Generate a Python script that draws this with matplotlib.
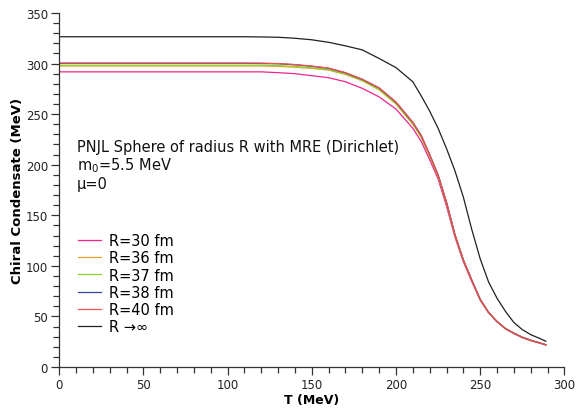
import matplotlib
matplotlib.use("Agg")
import matplotlib.pyplot as plt
from matplotlib.ticker import MultipleLocator

# temperature grid (MeV)
T = [0, 110, 120, 130, 140, 150, 160, 170, 180, 190, 200, 210, 215, 220, 225,
     230, 235, 240, 245, 250, 255, 260, 265, 270, 275, 280, 285, 289]

# chiral condensate (MeV)
r30 = [291.8, 291.8, 291.8, 291.0, 290.0, 288.0, 286.0, 282.0, 275.5, 267.0, 255.0,
       236.0, 223.0, 205.0, 186.0, 159.0, 128.5, 104.0, 84.5, 66.0, 53.5, 44.5,
       37.8, 33.0, 29.0, 26.0, 23.8, 21.7]
r36 = [297.6, 297.6, 297.6, 297.2, 296.4, 295.2, 293.5, 289.2, 283.0, 274.0, 260.0,
       240.0, 227.0, 208.5, 188.8, 161.8, 130.3, 105.3, 85.5, 66.6, 53.8, 44.8,
       38.0, 33.3, 29.3, 26.3, 24.0, 21.9]
r37 = [298.4, 298.4, 298.4, 298.0, 297.1, 295.8, 294.0, 289.7, 283.4, 274.4, 260.5,
       240.5, 227.5, 209.0, 189.2, 162.2, 130.6, 105.6, 85.7, 66.8, 53.9, 44.9,
       38.0, 33.4, 29.4, 26.4, 24.0, 22.0]
r38 = [300.2, 300.2, 300.1, 299.8, 298.8, 297.3, 295.3, 290.8, 284.3, 275.8, 261.7,
       241.8, 228.8, 210.0, 190.0, 163.0, 131.0, 106.0, 86.0, 67.0, 54.0, 45.0,
       38.0, 33.5, 29.5, 26.5, 24.0, 22.0]
r40 = [300.5, 300.5, 300.4, 300.0, 299.0, 297.5, 295.5, 291.0, 284.5, 276.0, 262.0,
       242.0, 229.0, 210.0, 190.0, 163.0, 131.0, 106.0, 86.0, 67.0, 54.0, 45.0,
       38.0, 33.5, 29.5, 26.5, 24.0, 22.0]
rinf = [326.5, 326.5, 326.3, 326.0, 325.0, 323.5, 321.0, 317.5, 313.5, 305.0, 296.0,
        282.0, 268.0, 253.0, 236.0, 216.0, 194.0, 168.0, 136.0, 107.0, 84.0, 68.0,
        55.0, 44.0, 37.0, 32.0, 28.5, 25.5]

labels = ["R=30 fm", "R=36 fm", "R=37 fm", "R=38 fm", "R=40 fm", "R \u2192\u221e"]
colors = ["#f0248c", "#e8a030", "#8cd420", "#30449a", "#f05050", "#202020"]
series = [r30, r36, r37, r38, r40, rinf]

fig = plt.figure(figsize=(5.84, 4.10), dpi=100)
ax = fig.add_axes([0.1014, 0.1024, 0.8650, 0.8635])

for y, c, lab in zip(series, colors, labels):
    ax.plot(T, y, color=c, lw=0.9, label=lab)

ax.set_xlim(0, 300)
ax.set_ylim(0, 350)
ax.xaxis.set_major_locator(MultipleLocator(50))
ax.xaxis.set_minor_locator(MultipleLocator(10))
ax.yaxis.set_major_locator(MultipleLocator(50))
ax.yaxis.set_minor_locator(MultipleLocator(10))
for s in ["top", "right"]:
    ax.spines[s].set_visible(False)
for s in ["left", "bottom"]:
    ax.spines[s].set_color("#333333")
    ax.spines[s].set_linewidth(0.9)
ax.tick_params(which="major", direction="out", length=6, width=0.9, pad=2,
               color="#333333", labelsize=8.5, labelcolor="#222222")
ax.tick_params(which="minor", direction="out", length=4, width=0.9, color="#333333")

ax.set_xlabel("T (MeV)", fontsize=9, fontweight="bold", labelpad=1)
ax.set_ylabel("Chiral Condensate (MeV)", fontsize=9.5, fontweight="bold", labelpad=1)

ax.text(0.035, 0.645, "PNJL Sphere of radius R with MRE (Dirichlet)\nm$_0$=5.5 MeV\n\u03bc=0",
        transform=ax.transAxes, fontsize=10.5, va="top", ha="left",
        linespacing=1.15, color="#111111")

ax.legend(loc="upper left", bbox_to_anchor=(0.037, 0.378), frameon=False,
          fontsize=10.5, handlelength=1.6, handletextpad=0.55, labelspacing=0.15,
          borderaxespad=0, borderpad=0)

fig.savefig("out.png", dpi=100)
